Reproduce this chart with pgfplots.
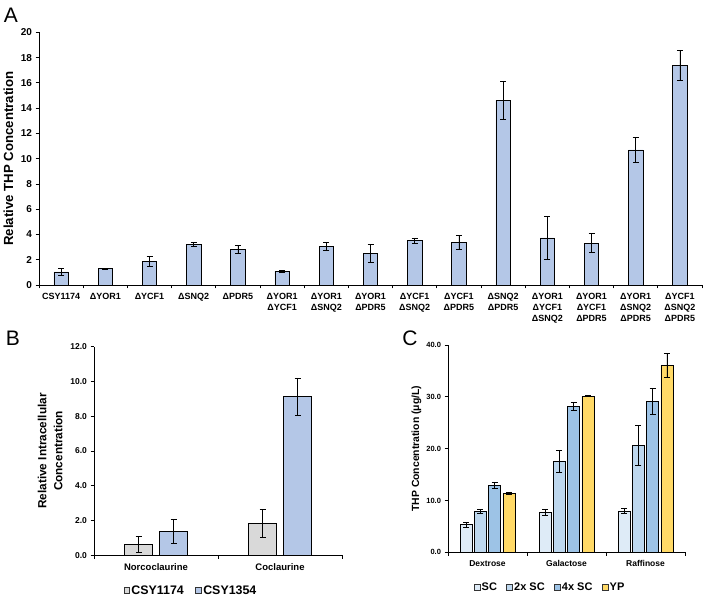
\documentclass[border=0pt]{standalone}
\usepackage{fontspec}
\setmainfont{Liberation Sans}
\usepackage{pgfplots}
\pgfplotsset{compat=1.18}
\definecolor{barA}{HTML}{B4C7E7}
\definecolor{grayB}{HTML}{D9D9D9}
\definecolor{cSC}{HTML}{DEEBF7}
\definecolor{cSCb}{HTML}{BDD7EE}
\definecolor{cSCc}{HTML}{9DC3E6}
\definecolor{cYP}{HTML}{FFD966}
\pgfplotsset{
  common/.style={
    scale only axis,
    axis lines*=left,
    axis line style={black, line width=0.8pt},
    tick align=outside,
    major tick length=3.5pt,
    tick style={black, line width=0.7pt},
    /pgf/number format/assume math mode=true,
    ymin=0,
    clip=false,
  },
  onedec/.style={
    /pgf/number format/fixed,
    /pgf/number format/fixed zerofill,
    /pgf/number format/precision=1,
  },
  ebar/.style={
    draw=black, line width=0.7pt,
    error bars/y dir=both, error bars/y explicit,
    error bars/error bar style={line width=0.7pt, black},
    error bars/error mark options={rotate=90, mark size=3pt, line width=0.7pt, black},
  },
}
\begin{document}
\begin{tikzpicture}
\useasboundingbox (0,0) rectangle (703pt,596pt);
% Panel labels
\node[font=\fontsize{21}{22}\selectfont] at (11pt,581pt) {A};
\node[font=\fontsize{21}{22}\selectfont] at (13pt,258pt) {B};
\node[font=\fontsize{21}{22}\selectfont] at (410pt,258pt) {C};

% ---------- Panel A ----------
\begin{axis}[common,
  at={(39pt,311pt)}, anchor=south west,
  width=663pt, height=252.7pt,
  ybar, bar width=14.3pt,
  xmin=-0.5, xmax=14.5, ymax=20,
  ytick={0,2,...,20},
  xtick={-0.5,0.5,...,14.5}, xticklabels={},
  extra x ticks={0,1,...,14},
  extra x tick labels={CSY1174,ΔYOR1,ΔYCF1,ΔSNQ2,ΔPDR5,{ΔYOR1\\ΔYCF1},{ΔYOR1\\ΔSNQ2},{ΔYOR1\\ΔPDR5},{ΔYCF1\\ΔSNQ2},{ΔYCF1\\ΔPDR5},{ΔSNQ2\\ΔPDR5},{ΔYOR1\\ΔYCF1\\ΔSNQ2},{ΔYOR1\\ΔYCF1\\ΔPDR5},{ΔYOR1\\ΔSNQ2\\ΔPDR5},{ΔYCF1\\ΔSNQ2\\ΔPDR5}},
  extra x tick style={major tick length=0pt},
  x tick label style={align=center, yshift=-5pt, font=\bfseries\fontsize{9}{10.7}\selectfont},
  y tick label style={font=\bfseries\fontsize{10}{11}\selectfont},
  ylabel={Relative THP Concentration},
  ylabel style={at={(axis description cs:-0.046,0.5)}, anchor=center, font=\bfseries\fontsize{13.2}{14}\selectfont},
]
\addplot[fill=barA, ebar] coordinates {
  (0,1.03) +- (0,0.30)
  (1,1.29) +- (0,0.05)
  (2,1.87) +- (0,0.38)
  (3,3.22) +- (0,0.18)
  (4,2.82) +- (0,0.35)
  (5,1.10) +- (0,0.06)
  (6,3.06) +- (0,0.30)
  (7,2.50) +- (0,0.68)
  (8,3.51) +- (0,0.22)
  (9,3.35) +- (0,0.55)
  (10,14.64) +- (0,1.50)
  (11,3.72) +- (0,1.70)
  (12,3.32) +- (0,0.75)
  (13,10.69) +- (0,1.00)
  (14,17.36) +- (0,1.20)
};
\end{axis}

% ---------- Panel B ----------
\begin{axis}[common, onedec,
  at={(94pt,40.7pt)}, anchor=south west,
  width=248pt, height=208.6pt,
  ybar=7pt, bar width=28pt,
  xmin=-0.5, xmax=1.5, ymax=12,
  ytick={0,2,...,12},
  xtick={-0.5,0.5,1.5}, xticklabels={},
  extra x ticks={0,1},
  extra x tick labels={Norcoclaurine,Coclaurine},
  extra x tick style={major tick length=0pt},
  x tick label style={yshift=-5pt, font=\bfseries\fontsize{9.5}{11}\selectfont},
  y tick label style={font=\bfseries\fontsize{8.5}{10}\selectfont},
  ylabel={Relative Intracellular\\Concentration},
  ylabel style={align=center, at={(axis description cs:-0.177,0.5)}, anchor=center, font=\bfseries\fontsize{11.8}{16}\selectfont},
  legend style={at={(0.39,-0.125)}, anchor=north, draw=none, legend columns=-1,
    font=\bfseries\fontsize{12.4}{14}\selectfont,
    /tikz/every even column/.append style={column sep=10pt},
    nodes={inner xsep=1.5pt}},
]
\addplot[fill=grayB, legend image code/.code={\draw[fill=grayB, draw=black!80, line width=0.6pt] (0pt,-2.9pt) rectangle (5.8pt,2.9pt);}, ebar] coordinates {
  (0,0.63) +- (0,0.47)
  (1,1.84) +- (0,0.82)
};
\addplot[fill=barA, legend image code/.code={\draw[fill=barA, draw=black!80, line width=0.6pt] (0pt,-2.9pt) rectangle (5.8pt,2.9pt);}, ebar] coordinates {
  (0,1.38) +- (0,0.69)
  (1,9.12) +- (0,1.08)
};
\legend{CSY1174,CSY1354}
\end{axis}

% ---------- Panel C ----------
\begin{axis}[common, onedec,
  at={(448pt,43.7pt)}, anchor=south west,
  width=237pt, height=207.3pt,
  ybar=2.3pt, bar width=12pt,
  xmin=-0.5, xmax=2.5, ymax=40,
  ytick={0,10,...,40},
  xtick={-0.5,0.5,1.5,2.5}, xticklabels={},
  extra x ticks={0,1,2},
  extra x tick labels={Dextrose,Galactose,Raffinose},
  extra x tick style={major tick length=0pt},
  x tick label style={yshift=-5pt, font=\bfseries\fontsize{8.5}{10}\selectfont},
  y tick label style={font=\bfseries\fontsize{7.5}{9}\selectfont},
  ylabel={THP Concentration (μg/L)},
  ylabel style={at={(axis description cs:-0.133,0.5)}, anchor=center, font=\bfseries\fontsize{10.4}{12}\selectfont},
  legend style={at={(0.43,-0.125)}, anchor=north, draw=none, legend columns=-1,
    font=\bfseries\fontsize{11}{13}\selectfont,
    /tikz/every even column/.append style={column sep=8pt},
    nodes={inner xsep=1.5pt}},
]
\addplot[fill=cSC, legend image code/.code={\draw[fill=cSC, draw=black!80, line width=0.6pt] (0pt,-2.8pt) rectangle (5.6pt,2.8pt);}, ebar] coordinates {
  (0,5.34) +- (0,0.50)
  (1,7.65) +- (0,0.55)
  (2,7.97) +- (0,0.45)
};
\addplot[fill=cSCb, legend image code/.code={\draw[fill=cSCb, draw=black!80, line width=0.6pt] (0pt,-2.8pt) rectangle (5.6pt,2.8pt);}, ebar] coordinates {
  (0,7.90) +- (0,0.40)
  (1,17.60) +- (0,2.10)
  (2,20.60) +- (0,3.80)
};
\addplot[fill=cSCc, legend image code/.code={\draw[fill=cSCc, draw=black!80, line width=0.6pt] (0pt,-2.8pt) rectangle (5.6pt,2.8pt);}, ebar] coordinates {
  (0,12.86) +- (0,0.60)
  (1,28.15) +- (0,0.80)
  (2,29.10) +- (0,2.55)
};
\addplot[fill=cYP, legend image code/.code={\draw[fill=cYP, draw=black!80, line width=0.6pt] (0pt,-2.8pt) rectangle (5.6pt,2.8pt);}, ebar] coordinates {
  (0,11.38) +- (0,0.20)
  (1,30.15) +- (0,0.10)
  (2,36.10) +- (0,2.25)
};
\legend{SC,2x SC,4x SC,YP}
\end{axis}
\end{tikzpicture}
\end{document}
